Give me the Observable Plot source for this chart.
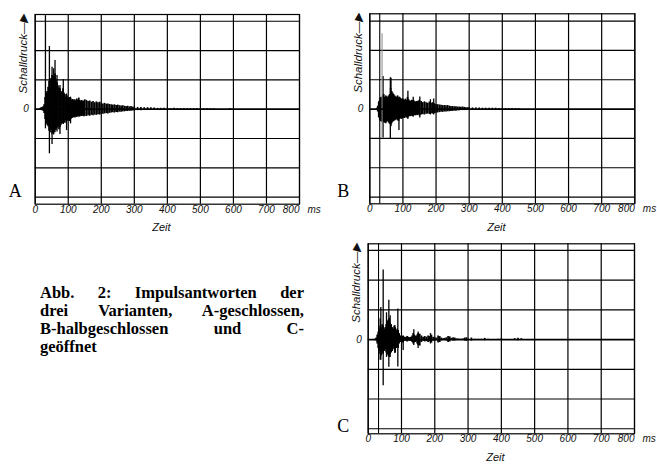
<!DOCTYPE html>
<html><head><meta charset="utf-8">
<script src="https://cdn.jsdelivr.net/npm/d3@7"></script>
<script src="https://cdn.jsdelivr.net/npm/@observablehq/plot@0.6"></script>
<style>
html,body{margin:0;padding:0;background:#fff}
body{width:657px;height:468px;overflow:hidden;position:relative}
.panel{position:absolute}
.panel svg{display:block}
.cap{position:absolute;left:40px;top:283.6px;width:264px;font-family:"Liberation Serif","Times New Roman",serif;font-weight:bold;font-size:16.5px;color:#000}
.cap div{height:18.3px;line-height:18.3px;text-align:justify;text-align-last:justify}
.cap div.last{text-align:left;text-align-last:left}
</style>
</head><body>
<div id="pA" class="panel" style="left:0;top:0;width:330px;height:240px"></div>
<div id="pB" class="panel" style="left:330px;top:0;width:327px;height:240px"></div>
<div id="pC" class="panel" style="left:330px;top:230px;width:327px;height:238px"></div>
<div class="cap">
<div>Abb. 2: Impulsantworten der</div>
<div>drei Varianten, A-geschlossen,</div>
<div>B-halbgeschlossen und C-</div>
<div class="last">geöffnet</div>
</div>
<script>
// time samples (ms)
const T = [15,18,21,24,27,30,33,36,39,42,
45,48,51,54,57,60,63,66,69,72,
75,78,81,84,87,90,93,96,99,102,
105,108,111,114,117,120,123,126,129,132,
135,138,141,144,147,150,155,160,165,170,
175,180,185,190,195,200,205,210,215,220,
225,230,235,240,245,250,255,260,265,270,
275,280,285,290,295,300,310,320,330,340,
350,360,370,380,390,400,410,420,430,440,
450,460,470,480,490,500,510,520,530,540,
550,560,570,580,590,600];

// Variant A (geschlossen): envelope of the response
const hiA = [0.03,0.05,0.06,0.08,0.15,0.4,0.55,0.6,0.75,0.95,
0.95,1.05,1.15,1.0,1.1,1.2,1.0,0.9,0.8,0.72,
0.7,0.6,0.55,0.7,0.55,0.5,0.42,0.45,0.38,0.36,
0.4,0.35,0.3,0.33,0.3,0.32,0.28,0.35,0.3,0.38,
0.3,0.27,0.3,0.26,0.28,0.32,0.3,0.26,0.28,0.24,
0.26,0.22,0.25,0.22,0.24,0.2,0.18,0.2,0.17,0.18,
0.16,0.15,0.14,0.15,0.13,0.14,0.12,0.11,0.12,0.1,
0.09,0.1,0.08,0.09,0.07,0.07,0.06,0.06,0.05,0.05,
0.05,0.04,0.03,0.03,0.03,0.03,0.02,0.03,0.02,0.02,
0.02,0.02,0.02,0.02,0.02,0.02,0.015,0.015,0.01,0.01,
0,0,0,0,0.02,0];
const loA = [-0.03,-0.04,-0.05,-0.07,-0.15,-0.35,-0.5,-0.55,-0.6,-0.75,
-0.8,-0.7,-0.85,-0.75,-0.8,-0.7,-0.72,-0.65,-0.6,-0.7,
-0.62,-0.55,-0.5,-0.5,-0.45,-0.48,-0.4,-0.42,-0.38,-0.4,
-0.42,-0.35,-0.32,-0.3,-0.28,-0.3,-0.27,-0.28,-0.25,-0.27,
-0.26,-0.24,-0.25,-0.24,-0.26,-0.24,-0.25,-0.22,-0.24,-0.21,
-0.22,-0.2,-0.21,-0.19,-0.2,-0.18,-0.17,-0.16,-0.15,-0.16,
-0.14,-0.13,-0.12,-0.13,-0.11,-0.12,-0.1,-0.1,-0.09,-0.09,
-0.08,-0.08,-0.07,-0.07,-0.06,-0.06,-0.05,-0.05,-0.04,-0.04,
-0.04,-0.03,-0.03,-0.03,-0.02,-0.02,-0.02,-0.02,-0.02,-0.02,
-0.02,-0.02,-0.02,-0.02,-0.02,-0.02,-0.015,-0.01,-0.01,-0.01,
0,0,0,0,-0.02,0];
const spikeTA  = [31,43,51,56,60,66,75,85,95,107];
const spikeHiA = [3.19,2.14,1.43,1.38,1.66,1.15,0.81,1.01,0.52,0.41];
const spikeLoA = [-0.67,-1.52,-1.2,-0.88,-0.8,-0.78,-0.86,-0.52,-0.73,-0.5];

// Variant B (halbgeschlossen)
const hiB = [0,0,0.03,0.1,0.25,0.35,0.4,0.38,0.45,0.5,
0.4,0.45,0.42,0.4,0.45,0.5,0.7,0.6,0.55,0.5,
0.45,0.42,0.4,0.45,0.38,0.4,0.36,0.33,0.35,0.32,
0.3,0.34,0.3,0.4,0.32,0.28,0.26,0.3,0.28,0.3,
0.25,0.24,0.26,0.25,0.28,0.3,0.26,0.22,0.25,0.22,
0.2,0.24,0.2,0.22,0.18,0.16,0.15,0.14,0.13,0.12,
0.12,0.11,0.12,0.1,0.09,0.09,0.08,0.08,0.07,0.07,
0.06,0.07,0.06,0.05,0.05,0.05,0.04,0.04,0.04,0.03,
0.03,0.03,0.03,0.03,0.02,0.02,0.02,0.02,0.02,0.015,
0.01,0,0,0,0,0,0,0,0,0,
0,0,0,0,0,0];
const loB = [0,0,-0.03,-0.1,-0.3,-0.4,-0.42,-0.45,-0.4,-0.45,
-0.48,-0.5,-0.45,-0.42,-0.48,-0.52,-0.55,-0.5,-0.45,-0.42,
-0.4,-0.38,-0.36,-0.4,-0.42,-0.35,-0.33,-0.35,-0.32,-0.3,
-0.32,-0.28,-0.3,-0.33,-0.27,-0.25,-0.26,-0.24,-0.25,-0.23,
-0.22,-0.23,-0.21,-0.22,-0.2,-0.24,-0.2,-0.19,-0.2,-0.18,
-0.17,-0.18,-0.16,-0.17,-0.15,-0.14,-0.13,-0.12,-0.11,-0.11,
-0.1,-0.1,-0.09,-0.09,-0.08,-0.08,-0.07,-0.07,-0.06,-0.06,
-0.05,-0.05,-0.05,-0.04,-0.04,-0.04,-0.04,-0.03,-0.03,-0.03,
-0.03,-0.02,-0.02,-0.02,-0.02,-0.02,-0.02,-0.02,-0.02,-0.015,
-0.01,0,0,0,0,0,0,0,0,0,
0,0,0,0,0,0];
const spikeTB  = [40,62,64,88,115,131,151,183,193];
const spikeHiB = [1.11,1.07,1.05,0.4,0.61,0.4,0.41,0.32,0.34];
const spikeLoB = [-0.99,-1.03,-0.6,-0.73,-0.35,-0.28,-0.3,-0.2,-0.2];
const faintTB  = [37];
const faintHiB = [2.57];
const faintLoB = [-1.0];
const markerB  = [30];

// Variant C (geöffnet)
const hiC = [0,0,0.02,0.05,0.15,0.25,0.35,0.45,0.4,0.5,
0.45,0.35,0.4,0.5,0.6,0.65,0.7,0.55,0.5,0.4,
0.35,0.45,0.4,0.3,0.35,0.3,0.2,0.12,0.1,0.1,
0.12,0.08,0.06,0.08,0.1,0.08,0.06,0.07,0.08,0.12,
0.2,0.15,0.12,0.1,0.15,0.2,0.18,0.12,0.08,0.1,
0.08,0.12,0.1,0.15,0.08,0.06,0.05,0.12,0.1,0.05,
0.03,0.04,0.06,0.1,0.09,0.04,0.06,0.05,0.02,0.02,
0.01,0.01,0.02,0.05,0.06,0.02,0.05,0.01,0.01,0.01,
0.04,0.01,0,0,0.01,0.03,0,0,0,0.03,
0.04,0.03,0,0,0,0,0,0,0,0,
0,0,0,0,0,0];
const loC = [0,0,-0.02,-0.05,-0.15,-0.3,-0.4,-0.5,-0.55,-0.45,
-0.5,-0.4,-0.35,-0.45,-0.5,-0.55,-0.6,-0.5,-0.45,-0.4,
-0.3,-0.35,-0.45,-0.3,-0.25,-0.3,-0.15,-0.1,-0.08,-0.1,
-0.12,-0.06,-0.05,-0.06,-0.08,-0.06,-0.05,-0.06,-0.07,-0.1,
-0.15,-0.12,-0.1,-0.08,-0.15,-0.2,-0.22,-0.1,-0.06,-0.08,
-0.07,-0.1,-0.08,-0.12,-0.06,-0.05,-0.04,-0.12,-0.1,-0.04,
-0.03,-0.03,-0.05,-0.1,-0.08,-0.03,-0.05,-0.05,-0.02,-0.02,
-0.01,-0.01,-0.02,-0.05,-0.06,-0.02,-0.05,-0.01,-0.01,-0.01,
-0.04,-0.01,0,0,-0.01,-0.03,0,0,0,-0.03,
-0.04,-0.03,0,0,0,0,0,0,0,0,
0,0,0,0,0,0];
const spikeTC  = [36,38,45,55,62,66,80,89,105,137,150,187];
const spikeHiC = [0.7,1.08,2.34,0.9,1.32,0.8,0.47,1.03,0.1,0.33,0.25,0.2];
const spikeLoC = [-0.7,-0.7,-1.55,-0.6,-0.93,-0.6,-0.47,-0.92,-0.37,-0.2,-0.3,-0.15];
const markerC  = [31];

const xTicks = [0,100,200,300,400,500,600,700,800];
const yGrid = [-3,-2,-1,1,2,3];
const yLabel = "Schalldruck\u2014\u25B6";
const xLabel = "Zeit";
const unit = "ms";

function rows(t, hi, lo){ return t.map((d,i)=>({t:d, hi:hi[i], lo:lo[i]})).filter(d=>d.hi!==d.lo); }

function panel(cfg){
  const sans = "Liberation Sans, Arial, sans-serif";
  const marks = [
    Plot.ruleY(yGrid, {stroke:"#000", strokeWidth:1.2}),
    Plot.ruleX(xTicks, {stroke:"#000", strokeWidth:1.2}),
  ];
  if (cfg.marker) marks.push(Plot.ruleX(cfg.marker, {stroke:"#000", strokeWidth:1.1}));
  marks.push(
    Plot.ruleX(rows(T, cfg.hi, cfg.lo), {x:"t", y1:"lo", y2:"hi", stroke:"#000", strokeWidth:1.7}),
    Plot.ruleX(rows(cfg.spT, cfg.spHi, cfg.spLo), {x:"t", y1:"lo", y2:"hi", stroke:"#000", strokeWidth:1.3})
  );
  if (cfg.faintT) marks.push(Plot.ruleX(rows(cfg.faintT, cfg.faintHi, cfg.faintLo), {x:"t", y1:"lo", y2:"hi", stroke:"#888", strokeWidth:1}));
  marks.push(
    Plot.ruleY([0], {stroke:"#000", strokeWidth:1.8}),
    Plot.frame({stroke:"#000", strokeWidth:1.2}),
    Plot.text(xTicks.slice(0,-1), {x:d=>d, text:d=>String(d), frameAnchor:"bottom", dy:8.5, fontStyle:"italic", fontSize:10, fontFamily:sans, fill:"#111"}),
    Plot.text([800], {x:d=>d, text:d=>String(d), frameAnchor:"bottom", dy:8.5, textAnchor:"end", fontStyle:"italic", fontSize:10, fontFamily:sans, fill:"#111"}),
    Plot.text([800], {x:d=>d, text:()=>unit, frameAnchor:"bottom", dy:8.5, dx:8, textAnchor:"start", fontStyle:"italic", fontSize:10, fontFamily:sans, fill:"#111"}),
    Plot.text([382], {x:d=>d, text:()=>xLabel, frameAnchor:"bottom", dy:cfg.zeitDy, fontStyle:"italic", fontSize:11, fontFamily:sans, fill:"#111"}),
    Plot.text([0], {y:d=>d, text:()=>"0", frameAnchor:"left", dx:-6.5, textAnchor:"end", fontStyle:"italic", fontSize:10, fontFamily:sans, fill:"#111"}),
    Plot.text([yLabel], {frameAnchor:"top-left", dx:cfg.ylabDx, dy:-1, rotate:-90, textAnchor:"end", fontStyle:"italic", fontSize:11.5, fontFamily:sans, fill:"#111"}),
    Plot.text([cfg.letter], {frameAnchor:"bottom-left", dx:cfg.letDx, dy:cfg.letDy, textAnchor:"start", lineAnchor:"bottom", fontSize:18, fontFamily:"Liberation Serif, Times New Roman, serif", fill:"#000"})
  );
  return Plot.plot({
    width:cfg.w, height:cfg.h,
    marginLeft:cfg.ml, marginRight:cfg.mr, marginTop:cfg.mt, marginBottom:cfg.mb,
    x:{domain:[0,800], axis:null},
    y:{domain:cfg.ydom, axis:null},
    style:{background:"transparent", overflow:"visible"},
    marks
  });
}

document.getElementById("pA").append(panel({
  w:330, h:240, ml:34.7, mr:31, mt:14, mb:36.3, ydom:[-3.24,3.23],
  hi:hiA, lo:loA, spT:spikeTA, spHi:spikeHiA, spLo:spikeLoA,
  letter:"A", letDx:-26.4, letDy:-7.7, ylabDx:-16.4, zeitDy:27
}));
document.getElementById("pB").append(panel({
  w:327, h:240, ml:39.3, mr:22.7, mt:13.3, mb:36.7, ydom:[-3.23,3.25],
  hi:hiB, lo:loB, spT:spikeTB, spHi:spikeHiB, spLo:spikeLoB,
  faintT:faintTB, faintHi:faintHiB, faintLo:faintLoB, marker:markerB,
  letter:"B", letDx:-32.6, letDy:-6.6, ylabDx:-16.4, zeitDy:27
}));
document.getElementById("pC").append(panel({
  w:327, h:238, ml:37.7, mr:23, mt:13.3, mb:34.7, ydom:[-3.17,3.22],
  hi:hiC, lo:loC, spT:spikeTC, spHi:spikeHiC, spLo:spikeLoC, marker:markerC,
  letter:"C", letDx:-31, letDy:-1.6, ylabDx:-16.4, zeitDy:27
}));
</script>
</body></html>
